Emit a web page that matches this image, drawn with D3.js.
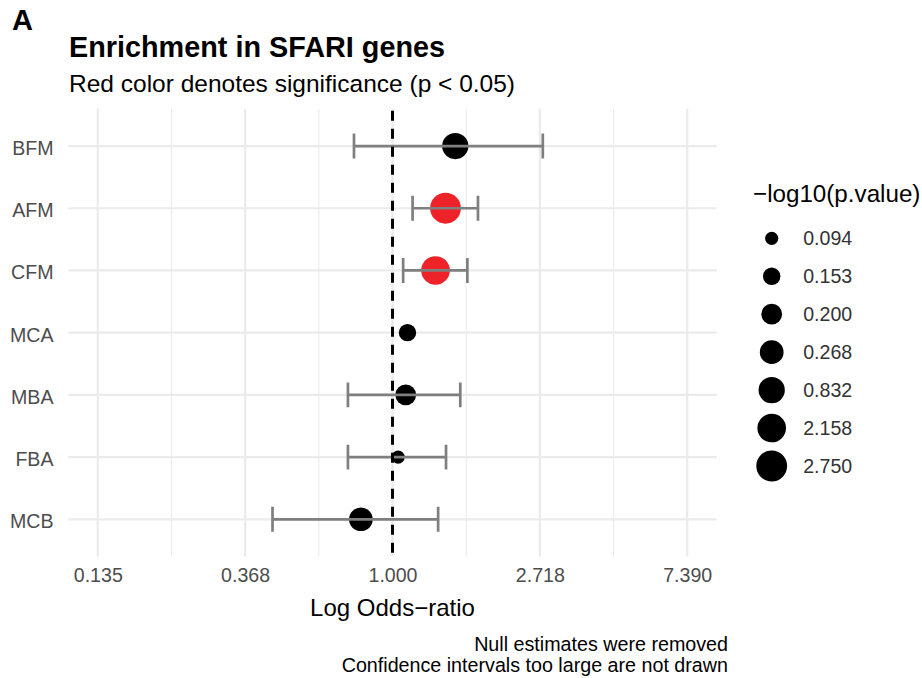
<!DOCTYPE html>
<html>
<head>
<meta charset="utf-8">
<script src="https://cdn.jsdelivr.net/npm/d3@7"></script>
<style>
  html, body { margin: 0; padding: 0; background: #fff; }
  svg { display: block; font-family: "Liberation Sans", Arial, sans-serif; }
</style>
</head>
<body>
<svg id="chart" width="922" height="678"></svg>
<script>
// Forest plot: odds ratios of SFARI gene enrichment per group
const categories = ["BFM", "AFM", "CFM", "MCA", "MBA", "FBA", "MCB"];
const oddsRatio  = [1.531, 1.433, 1.339, 1.107, 1.094, 1.039, 0.807];
const ciLow      = [0.770, 1.146, 1.075, null, 0.739, 0.739, 0.443];
const ciHigh     = [2.773, 1.786, 1.662, null, 1.584, 1.438, 1.363];
const negLog10P  = [0.832, 2.750, 2.158, 0.153, 0.200, 0.094, 0.268];
const tickValues = [Math.exp(-2), Math.exp(-1), 1, Math.exp(1), Math.exp(2)];
const tickLabels = ["0.135", "0.368", "1.000", "2.718", "7.390"];
const minorTicks = [Math.exp(-1.5), Math.exp(-0.5), Math.exp(0.5), Math.exp(1.5)];

const rows = categories.map((c, i) => ({
  cat: c, or: oddsRatio[i], lo: ciLow[i], hi: ciHigh[i], p: negLog10P[i]
}));

const svg = d3.select("#chart");
const panel = { left: 68.3, right: 716.7, top: 108.7, bottom: 556.6 };

const x = d3.scaleLog()
  .domain([Math.exp(-2.2), Math.exp(2.2)])
  .range([panel.left, panel.right]);

const y = d3.scalePoint()
  .domain(categories)
  .range([panel.top, panel.bottom])
  .padding(0.6);

// point size: area grows linearly with the rank of -log10(p)
const sizeLevels = negLog10P.slice().sort((a, b) => a - b);
const rMin = 6.6, rMax = 15.4;
const areaByRank = d3.scaleLinear().domain([0, sizeLevels.length - 1]).range([rMin * rMin, rMax * rMax]);
const radius = d3.scaleOrdinal()
  .domain(sizeLevels)
  .range(sizeLevels.map((_, i) => Math.sqrt(areaByRank(i))));

const colour = v => (v > -Math.log10(0.05) ? "#EE2229" : "#000000");

// grid
const grid = svg.append("g");
grid.selectAll(".minor").data(minorTicks).join("line")
  .attr("x1", d => x(d)).attr("x2", d => x(d))
  .attr("y1", panel.top).attr("y2", panel.bottom)
  .attr("stroke", "#EBEBEB").attr("stroke-width", 1.1);
grid.selectAll(".majorx").data(tickValues).join("line")
  .attr("x1", d => x(d)).attr("x2", d => x(d))
  .attr("y1", panel.top).attr("y2", panel.bottom)
  .attr("stroke", "#EBEBEB").attr("stroke-width", 2.2);
grid.selectAll(".majory").data(categories).join("line")
  .attr("x1", panel.left).attr("x2", panel.right)
  .attr("y1", d => y(d)).attr("y2", d => y(d))
  .attr("stroke", "#EBEBEB").attr("stroke-width", 2.2);

// points
svg.append("g").selectAll("circle").data(rows).join("circle")
  .attr("cx", d => x(d.or)).attr("cy", d => y(d.cat))
  .attr("r", d => radius(d.p))
  .attr("fill", d => colour(d.p));

// confidence intervals
const capHalf = y.step() * 0.2;
const bars = svg.append("g")
  .attr("stroke", "#7F7F7F").attr("stroke-width", 2.7).attr("fill", "none");
const withCI = rows.filter(d => d.lo != null && d.hi != null);
bars.selectAll(".ci").data(withCI).join("path")
  .attr("d", d => {
    const yc = y(d.cat), x0 = x(d.lo), x1 = x(d.hi);
    return `M${x0},${yc - capHalf}V${yc + capHalf}M${x0},${yc}H${x1}M${x1},${yc - capHalf}V${yc + capHalf}`;
  });

// reference line at OR = 1
svg.append("line")
  .attr("x1", x(1)).attr("x2", x(1))
  .attr("y1", panel.top).attr("y2", panel.bottom + 3)
  .attr("stroke", "#000").attr("stroke-width", 3)
  .attr("stroke-dasharray", "10,8")
  .attr("stroke-dashoffset", -2);

// axes
const xAxis = d3.axisBottom(x).tickValues(tickValues)
  .tickFormat((d, i) => tickLabels[i]).tickSize(0).tickPadding(0);
const gx = svg.append("g").attr("transform", `translate(0,${panel.bottom})`).call(xAxis);
gx.select(".domain").remove();
gx.selectAll("text").attr("dy", null).attr("y", 25.4)
  .attr("font-size", 19.6).attr("fill", "#4D4D4D")
  .attr("font-family", "Liberation Sans, Arial, sans-serif");

const yAxis = d3.axisLeft(y).tickSize(0).tickPadding(0);
const gy = svg.append("g").attr("transform", `translate(53.5,0)`).call(yAxis);
gy.select(".domain").remove();
gy.selectAll("text").attr("dy", null).attr("x", 0).attr("y", 8.5)
  .attr("font-size", 19.6).attr("fill", "#4D4D4D")
  .attr("font-family", "Liberation Sans, Arial, sans-serif");

// titles
svg.append("text").attr("x", 12).attr("y", 30)
  .attr("font-size", 29).attr("font-weight", "bold").text("A");
svg.append("text").attr("x", 69).attr("y", 57)
  .attr("font-size", 28.8).attr("font-weight", "bold").text("Enrichment in SFARI genes");
svg.append("text").attr("x", 69).attr("y", 92)
  .attr("font-size", 24.5).text("Red color denotes significance (p < 0.05)");
svg.append("text").attr("x", (panel.left + panel.right) / 2).attr("y", 616)
  .attr("text-anchor", "middle").attr("font-size", 24).text("Log Odds\u2212ratio");

const caption = ["Null estimates were removed", "Confidence intervals too large are not drawn"];
svg.append("g").selectAll("text").data(caption).join("text")
  .attr("x", 728).attr("y", (d, i) => 651 + i * 20.5)
  .attr("text-anchor", "end").attr("font-size", 19.7).text(d => d);

// size legend
const legend = svg.append("g");
legend.append("text").attr("x", 753).attr("y", 202)
  .attr("font-size", 24.2).text("\u2212log10(p.value)");
const keys = legend.selectAll(".key").data(sizeLevels).join("g")
  .attr("transform", (d, i) => `translate(771.7,${238.3 + i * 37.95})`);
keys.append("circle").attr("r", d => radius(d)).attr("fill", "#000");
keys.append("text").attr("x", 31.5).attr("y", 7)
  .attr("font-size", 19.6).attr("fill", "#333").text(d => d.toFixed(3));
</script>
</body>
</html>
